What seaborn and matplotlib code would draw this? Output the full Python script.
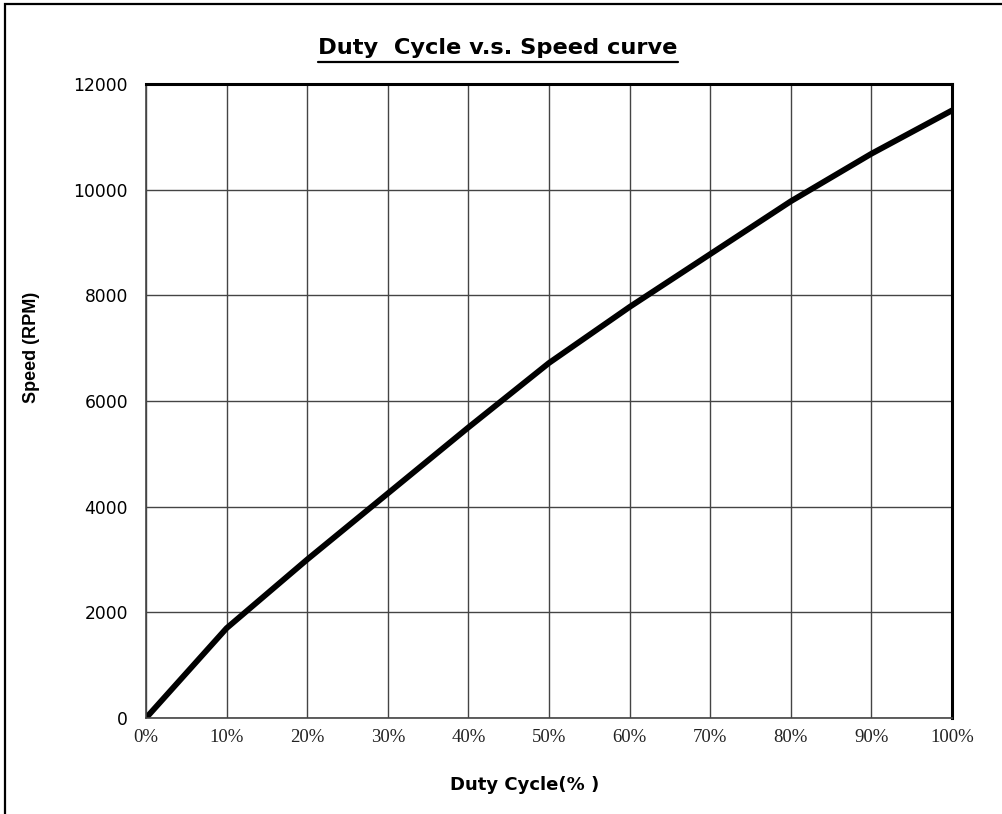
import matplotlib
matplotlib.use("Agg")
import matplotlib.pyplot as plt
import seaborn as sns
import pandas as pd
from matplotlib.lines import Line2D
from matplotlib.patches import Rectangle

# Data
duty = [0, 10, 20, 30, 40, 50, 60, 70, 80, 90, 100]
speed = [0, 1700, 3000, 4250, 5500, 6720, 7780, 8780, 9780, 10680, 11500]
x_ticks = [0, 10, 20, 30, 40, 50, 60, 70, 80, 90, 100]
x_tick_labels = ["0%", "10%", "20%", "30%", "40%", "50%", "60%", "70%", "80%", "90%", "100%"]
y_ticks = [0, 2000, 4000, 6000, 8000, 10000, 12000]
y_tick_labels = ["0", "2000", "4000", "6000", "8000", "10000", "12000"]

df = pd.DataFrame({"duty": duty, "speed": speed})

sns.set_theme(style="white")
plt.rcParams["font.family"] = ["Liberation Sans", "DejaVu Sans"]

W, H = 1003, 814
fig = plt.figure(figsize=(W / 100, H / 100), dpi=100)
ax = fig.add_axes([146 / W, 1 - 718 / H, (952 - 146) / W, (718 - 84) / H])

sns.lineplot(data=df, x="duty", y="speed", ax=ax, color="black", linewidth=4.2)

ax.set_xlim(0, 100)
ax.set_ylim(0, 12000)
ax.set_xticks(x_ticks)
ax.set_xticklabels(x_tick_labels, fontfamily="Liberation Serif", fontsize=13.5, color="#222222")
ax.set_yticks(y_ticks)
ax.set_yticklabels(y_tick_labels, fontfamily="DejaVu Sans", fontsize=12.3, color="black")
ax.tick_params(axis="x", length=0, pad=8)
ax.tick_params(axis="y", length=0, pad=13)

ax.grid(True, color="#444444", linewidth=1.0)
ax.set_axisbelow(True)
for side in ["left", "bottom"]:
    ax.spines[side].set_color("#444444")
    ax.spines[side].set_linewidth(1.2)
for side in ["top", "right"]:
    ax.spines[side].set_color("black")
    ax.spines[side].set_linewidth(2.2)

ax.set_xlabel("")
ax.set_ylabel("")
fig.text(525 / W, 1 - 785 / H, "Duty Cycle(% )", ha="center", va="center",
         fontsize=13, fontweight="bold", fontfamily="DejaVu Sans", color="black")
fig.text(32 / W, 1 - 347 / H, "Speed (RPM)", ha="center", va="center", rotation=90,
         fontsize=13, fontweight="bold", color="black")

title = fig.text(498 / W, 1 - 48 / H, "Duty  Cycle v.s. Speed curve", ha="center", va="center",
                 fontsize=16.2, fontweight="bold", fontfamily="DejaVu Sans", color="black")

# Figure border (partly cropped on right/bottom)
fig.add_artist(Rectangle((5 / W, -0.1), 1.2, 1 - 4 / H + 0.1, transform=fig.transFigure,
                         fill=False, edgecolor="black", linewidth=1.6, clip_on=False))

# Underline the title
fig.canvas.draw()
bb = title.get_window_extent(renderer=fig.canvas.get_renderer())
uy = (H - 62) / H
fig.add_artist(Line2D([bb.x0 / W, bb.x1 / W], [uy, uy], transform=fig.transFigure,
                      color="black", linewidth=1.6))

fig.savefig("out.png", dpi=100, facecolor="white")
